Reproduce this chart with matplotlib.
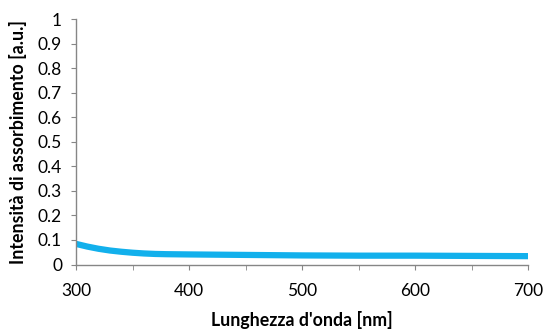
import numpy as np
import matplotlib
matplotlib.use('Agg')
import matplotlib.pyplot as plt

# absorbance spectrum
wavelength = [300, 310, 320, 330, 340, 350, 360, 370, 380, 400, 450, 500, 550, 600, 650, 700]
intensity  = [0.084, 0.073, 0.064, 0.057, 0.052, 0.048, 0.045, 0.043, 0.042, 0.041,
              0.039, 0.037, 0.036, 0.036, 0.035, 0.034]

plt.rcParams['font.family'] = ['Lato', 'DejaVu Sans']

fig = plt.figure(figsize=(5.43, 3.29), dpi=100)
ax = fig.add_axes([76/543, 1-264.5/329, (528-76)/543, (264.5-19)/329])

ax.plot(wavelength, intensity, color='#12B0EC', lw=4.5, solid_capstyle='butt')

ax.set_xlim(300, 700)
ax.set_ylim(0, 1)
ax.set_xticks(np.arange(300, 701, 100))
ax.set_xticks(np.arange(350, 700, 100), minor=True)
ax.set_yticks(np.arange(0, 1.01, 0.1))
ax.set_yticklabels(['0'] + ['%.1f' % v for v in np.arange(0.1, 0.95, 0.1)] + ['1'])

for s in ['top', 'right']:
    ax.spines[s].set_visible(False)
for s in ['left', 'bottom']:
    ax.spines[s].set_color('#868686')
    ax.spines[s].set_linewidth(1.0)

ax.tick_params(which='both', direction='out', length=3.5, color='#868686', labelsize=12.5)
ax.tick_params(axis='y', pad=6.5)
ax.tick_params(axis='x', pad=9.5)

ax.set_xlabel("Lunghezza d'onda [nm]", fontsize=12.8, fontweight='bold', va='center')
ax.set_ylabel("Intensità di assorbimento [a.u.]", fontsize=12.8, fontweight='bold', va='center')
ax.xaxis.set_label_coords(0.5, (264.5-320)/245.5)
ax.yaxis.set_label_coords((18-76)/452, 0.5)

fig.savefig('out.png', dpi=100)
